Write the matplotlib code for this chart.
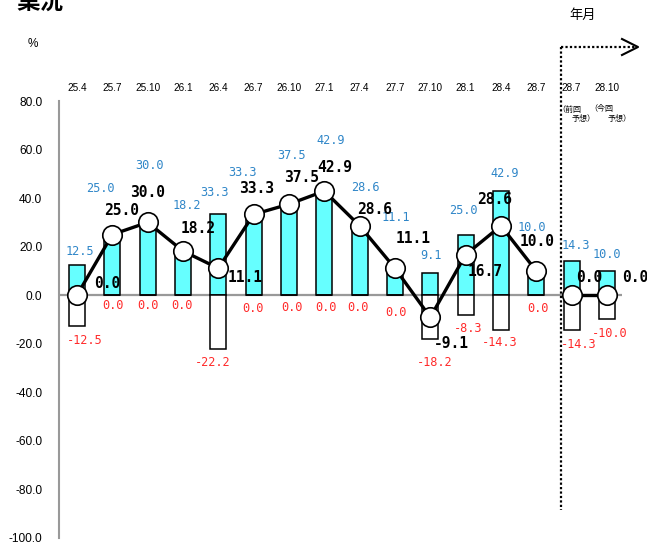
import matplotlib
matplotlib.use("Agg")
import matplotlib.pyplot as plt
from matplotlib.lines import Line2D

# ---- data ----
categories = ['25.4', '25.7', '25.10', '26.1', '26.4', '26.7', '26.10', '27.1',
              '27.4', '27.7', '27.10', '28.1', '28.4', '28.7', '28.7', '28.10']
good = [12.5, 25.0, 30.0, 18.2, 33.3, 33.3, 37.5, 42.9, 28.6, 11.1, 9.1, 25.0, 42.9, 10.0, 14.3, 10.0]
bad = [-12.5, 0.0, 0.0, 0.0, -22.2, 0.0, 0.0, 0.0, 0.0, 0.0, -18.2, -8.3, -14.3, 0.0, -14.3, -10.0]
net = [0.0, 25.0, 30.0, 18.2, 11.1, 33.3, 37.5, 42.9, 28.6, 11.1, -9.1, 16.7, 28.6, 10.0, 0.0, 0.0]
yticks = [80, 60, 40, 20, 0, -20, -40, -60, -80, -100]
n_actual = 14  # first 14 are actual results, last 2 are forecasts

# ---- label placement (pixel offsets) ----
blue_off = [(3, 13), (-12, 46), (2, 57), (4, 46), (-4, 22), (-11, 42), (3, 49), (6, 51),
            (6, 38), (1, 51), (1, 18), (-2, 24), (4, 18), (-5, 43), (4, 15), (0, 16)]
red_off = [(8, -15), (1, -10), (0, -10), (-1, -10), (-6, -13), (-1, -13), (3, -12), (2, -12),
           (-2, -12), (1, -17), (4, -23), (2, -13), (-1, -13), (2, -13), (7, -15), (3, -14)]
blk_off = [(30, 12), (9, 24), (0, 30), (15, 23), (27, -9), (3, 26), (13, 27), (10, 24),
           (15, 16), (18, 30), (21, -26), (19, -17), (-6, 26), (1, 29), (18, 18), (28, 18)]

fig = plt.figure(figsize=(6.47, 5.5), dpi=100)
W, H = 647, 550
ax = fig.add_axes([59 / W, 12 / H, (622 - 59) / W, 437 / H])

x = list(range(len(categories)))
ax.set_xlim(-18 / 35.33, 545 / 35.33)
ax.set_ylim(-100, 80)

bw = 0.45
ax.bar(x, good, width=bw, color='#66FFFF', edgecolor='black', linewidth=1.1, zorder=2)
ax.bar(x, bad, width=bw, color='white', edgecolor='black', linewidth=1.1, zorder=2)

# zero line
ax.axhline(0, color='#999999', linewidth=1.6, zorder=1)

# net line
ax.plot(x[:n_actual], net[:n_actual], color='black', linewidth=2.4, zorder=3)
ax.plot(x[n_actual:], net[n_actual:], color='black', linewidth=2.4, zorder=3)
ax.plot(x, net, linestyle='none', marker='o', markersize=14, markerfacecolor='white',
        markeredgecolor='black', markeredgewidth=1.2, zorder=4)

mono = 'DejaVu Sans Mono'
for i in x:
    ax.annotate(f'{good[i]:.1f}', (i, good[i]), xytext=blue_off[i], textcoords='offset pixels',
                ha='center', va='center', color='#2F86C8', fontsize=8.6, family=mono,
                annotation_clip=False, zorder=5)
    ax.annotate(f'{bad[i]:.1f}', (i, bad[i]), xytext=red_off[i], textcoords='offset pixels',
                ha='center', va='center', color='#FF2A2A', fontsize=8.6, family=mono,
                annotation_clip=False, zorder=5)
    ax.annotate(f'{net[i]:.1f}', (i, net[i]), xytext=blk_off[i], textcoords='offset pixels',
                ha='center', va='center', color='black', fontsize=10.5, family=mono,
                fontweight='bold', annotation_clip=False, zorder=6)

# axes styling
for s in ['top', 'right', 'bottom']:
    ax.spines[s].set_visible(False)
ax.spines['left'].set_color('#999999')
ax.spines['left'].set_linewidth(1.5)
ax.set_xticks([])
ax.set_yticks(yticks)
ax.set_yticklabels([f'{v:.1f}' for v in yticks])
ax.tick_params(axis='y', length=0, pad=12)
for lab in ax.get_yticklabels():
    lab.set_family('Liberation Sans')
    lab.set_fontsize(8.6)

# category labels on top
tr = ax.get_xaxis_transform()
for i, c in zip(x, categories):
    ax.text(i, 1 + 13 / 437, c, transform=tr, ha='center', va='center', fontsize=7.2,
            family='Liberation Sans', clip_on=False)

cjk = ['Noto Sans CJK JP', 'DejaVu Sans']
# forecast sublabels
ax.text(13.95, 1 - 8 / 437, '（前回', transform=tr, ha='center', va='center', fontsize=5.8, family=cjk)
ax.text(14.35, 1 - 18 / 437, '予想）', transform=tr, ha='center', va='center', fontsize=5.8, family=cjk)
ax.text(14.85, 1 - 8 / 437, '（今回', transform=tr, ha='center', va='center', fontsize=5.8, family=cjk)
ax.text(15.35, 1 - 18 / 437, '予想）', transform=tr, ha='center', va='center', fontsize=5.8, family=cjk)

# dotted separator with arrow (figure pixel coordinates)
def px(xp, yp):
    return xp / W, 1 - yp / H

x0, y0 = px(561, 47)
x1, y1 = px(561, 510)
x2, _ = px(636, 47)
fig.add_artist(Line2D([x0, x1], [y0, y1], color='black', linewidth=1.6, linestyle=(0, (1, 1))))
fig.add_artist(Line2D([x0, x2], [y0, y0], color='black', linewidth=1.6, linestyle=(0, (1, 1))))
a1 = px(622, 39); a2 = px(638, 47); a3 = px(622, 55)
fig.add_artist(Line2D([a1[0], a2[0], a3[0]], [a1[1], a2[1], a3[1]], color='black', linewidth=1.5))

# texts
fig.text(583 / W, 1 - 15 / H, '年月', ha='center', va='center', fontsize=9.5, family=cjk)
fig.text(33 / W, 1 - 44 / H, '%', ha='center', va='center', fontsize=8.5, family='Liberation Sans')
fig.text(16 / W, 1 - 3 / H, '業況', ha='left', va='center', fontsize=17, family=cjk, fontweight='bold')

fig.savefig('out.png', dpi=100)
